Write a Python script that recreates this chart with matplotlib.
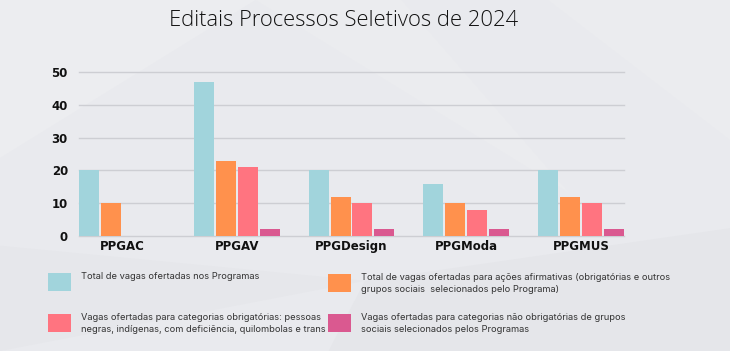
import matplotlib.pyplot as plt
import numpy as np
from matplotlib.patches import Rectangle, Polygon

programas = ["PPGAC", "PPGAV", "PPGDesign", "PPGModa", "PPGMUS"]
total_vagas = [20, 47, 20, 16, 20]
acoes_afirmativas = [10, 23, 12, 10, 12]
obrigatorias = [0, 21, 10, 8, 10]
nao_obrigatorias = [0, 2, 2, 2, 2]

series = [total_vagas, acoes_afirmativas, obrigatorias, nao_obrigatorias]
cores = ["#A1D4DC", "#FF914D", "#FF7480", "#DA5990"]
legendas = [
    "Total de vagas ofertadas nos Programas",
    "Total de vagas ofertadas para ações afirmativas (obrigatórias e outros\n"
    "grupos sociais  selecionados pelo Programa)",
    "Vagas ofertadas para categorias obrigatórias: pessoas\n"
    "negras, indígenas, com deficiência, quilombolas e trans",
    "Vagas ofertadas para categorias não obrigatórias de grupos\n"
    "sociais selecionados pelos Programas",
]

W, H = 730, 351
fig = plt.figure(figsize=(W / 100, H / 100), dpi=100)
fig.patch.set_facecolor("#E9EAEE")

# faint facets in the background
facets = [
    ([(0, 1), (0.35, 1), (0.0, 0.55)], "#ECEDF0"),
    ([(0.35, 1), (0.78, 0.45), (0.55, 1)], "#EBECEF"),
    ([(0.5, 0.2), (1, 0.35), (1, 0.0), (0.45, 0.0)], "#E5E6EA"),
    ([(0.75, 1), (1, 1), (1, 0.6)], "#EBECEF"),
    ([(0, 0.3), (0.5, 0.2), (0, 0)], "#E6E7EB"),
]
for pts, c in facets:
    fig.add_artist(Polygon(pts, closed=True, transform=fig.transFigure,
                           facecolor=c, edgecolor="none", zorder=-10))

left, right, y0, y50 = 79, 624, 236, 72
ax = fig.add_axes([left / W, (H - y0) / H, (right - left) / W, (y0 - y50) / H])
ax.set_facecolor("none")

x = np.arange(len(programas))
largura = 0.174
passo = 0.191
for i, (vals, cor) in enumerate(zip(series, cores)):
    desloc = (i - 1.5) * passo
    ax.bar(x + desloc, vals, width=largura, color=cor, zorder=3)

ax.set_xlim(-0.374, 4.374)
ax.set_ylim(0, 50)
ax.set_yticks([0, 10, 20, 30, 40, 50])
ax.yaxis.grid(True, color="#CDCED3", linewidth=1, zorder=0)
ax.set_axisbelow(True)
for s in ax.spines.values():
    s.set_visible(False)
ax.tick_params(axis="both", length=0, labelsize=8.5, colors="#111111")
ax.tick_params(axis="y", pad=8)
ax.tick_params(axis="x", pad=3)
ax.set_xticks(x)
ax.set_xticklabels(programas, fontweight="bold")
for lbl in ax.get_yticklabels():
    lbl.set_fontweight("bold")
for gl in ax.get_ygridlines():
    gl.set_clip_on(False)

fig.text(344 / W, 1 - 21 / H, "Editais Processos Seletivos de 2024",
         ha="center", va="center", fontsize=15.8, family="Open Sans",
         fontweight="light", color="#111111")

# legend, two columns
pos = [(48, 273), (328, 274), (48, 314), (328, 314)]
for (px, py), cor, txt in zip(pos, cores, legendas):
    fig.add_artist(Rectangle((px / W, 1 - (py + 18) / H), 23 / W, 18 / H,
                             transform=fig.transFigure, facecolor=cor,
                             edgecolor="none"))
    fig.text((px + 33) / W, 1 - (py - 1) / H, txt, ha="left", va="top",
             fontsize=6.7, family="Inter", color="#333333", linespacing=1.45)

fig.savefig("out.png", dpi=100, facecolor=fig.get_facecolor())
